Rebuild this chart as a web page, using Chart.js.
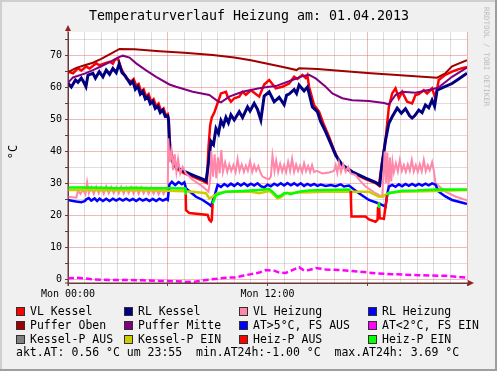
<!DOCTYPE html>
<html>
<head>
<meta charset="utf-8">
<script src="https://cdn.jsdelivr.net/npm/chart.js@4.4.0/dist/chart.umd.min.js"></script>
<style>
html, body { margin: 0; padding: 0; background: #f0f0f0; }
canvas { display: block; }
</style>
</head>
<body>
<canvas id="chart" width="497" height="371"></canvas>
<script>
// Zeit in Stunden (0 = Mon 00:00), Werte in °C
const xTickLabels = { 0: 'Mon 00:00', 12: 'Mon 12:00' };

const vlKessel = [[0,64.8],[0.3,64.3],[0.6,65.8],[0.8,65.2],[1.1,66.4],[1.3,65.8],[1.7,67.4],[1.9,66.8],[2.2,67.4],[2.5,67.9],[2.7,67.3],[2.8,68.4],[3.0,69],[3.2,65.8],[3.5,62.7],[3.8,61.7],[3.95,62.5],[4.1,60.5],[4.25,61],[4.4,58.5],[4.55,59.3],[4.7,57],[4.85,57.8],[5.0,55.5],[5.15,56.2],[5.3,54],[5.45,54.8],[5.6,52.5],[5.75,53.3],[5.9,51],[6.0,51.5],[6.05,50],[6.12,42],[6.3,37.5],[6.5,34.5],[7,33],[7.5,32],[8.1,30.7],[8.35,30],[8.45,41],[8.55,48],[8.65,50.5],[8.8,52],[9,55],[9.2,58],[9.5,58.5],[9.6,57],[9.8,55.4],[10,56.5],[10.3,57],[10.5,58.5],[10.7,57.6],[11,59],[11.2,58.2],[11.5,57],[11.8,60.8],[12.1,62.2],[12.5,59.6],[12.9,60.1],[13.3,61.1],[13.6,63.2],[13.8,62.5],[14.1,63.8],[14.3,62.8],[14.4,63.7],[14.5,60.1],[14.8,54.4],[15.1,52.3],[15.4,48.1],[15.7,44.5],[16,40.3],[16.3,36.7],[16.6,35],[17.1,33.2],[17.9,31.2],[18.5,30],[18.7,29.2],[18.85,35],[19.1,43.4],[19.3,53.8],[19.5,58],[19.7,59.6],[19.9,56.5],[20.1,58.5],[20.4,55.4],[20.7,54.9],[20.9,57.5],[21.1,57.8],[21.4,59],[21.6,58],[21.9,59.6],[22.1,56.5],[22.3,62.2],[22.7,63.8],[23.1,64.8],[23.5,65.6],[24,66.3]];

const rlKessel = [[0,61.2],[0.2,60],[0.45,62.2],[0.6,61.5],[0.8,62.8],[0.95,61.5],[1.08,60.1],[1.2,63.7],[1.5,64.3],[1.65,62.8],[1.88,64.8],[2.1,63.2],[2.3,65.3],[2.5,64],[2.7,65.8],[2.9,64.5],[3.08,67.2],[3.25,64.5],[3.45,63.5],[3.6,62.2],[3.75,61],[3.9,61.8],[4.05,59.3],[4.2,60.2],[4.35,57.8],[4.5,58.6],[4.65,56.3],[4.8,57],[4.95,54.8],[5.1,55.5],[5.25,53.3],[5.4,54],[5.55,52],[5.7,52.8],[5.85,50.8],[6.0,51],[6.05,49.5],[6.12,40.5],[6.3,36.5],[6.5,35],[7,33.6],[7.5,32.5],[8.1,31.2],[8.3,30.6],[8.45,36],[8.6,43],[8.75,42],[8.9,47],[9.05,45.5],[9.2,49.5],[9.35,48],[9.5,50.5],[9.65,48.8],[9.8,51.3],[10,49.7],[10.3,52.3],[10.5,50.5],[10.8,53.8],[10.95,52.5],[11.2,54.9],[11.4,53],[11.6,49.7],[11.8,57.2],[12.1,58.5],[12.4,55.4],[12.7,56.8],[13,54.5],[13.15,57.5],[13.3,57.8],[13.6,59.2],[13.75,58],[13.9,60.6],[14.2,58.8],[14.4,60],[14.5,58],[14.7,53.8],[15.0,52.3],[15.2,49.2],[15.5,46],[15.8,42.4],[16.1,38.7],[16.5,35.6],[17.1,33.5],[17.9,31.5],[18.5,30.2],[18.75,29.4],[18.9,36.2],[19.1,43.4],[19.3,48.7],[19.5,50.7],[19.8,53.4],[20.05,51.8],[20.3,53.2],[20.55,51],[20.7,50.3],[20.85,51],[21.1,52.8],[21.3,52],[21.5,54.4],[21.7,53.5],[21.9,55.9],[22.05,54],[22.2,59],[22.6,60],[23.1,61.1],[23.5,62.5],[24,64.3]];

const vlHeizung = [[0,25.7],[0.5,25.4],[0.6,27.6],[0.75,26.6],[0.9,28],[1.05,26.5],[1.15,30.2],[1.25,26.8],[1.4,28.6],[1.55,26.6],[1.7,28.8],[1.85,26.8],[2.0,28.7],[2.15,26.7],[2.3,28.9],[2.45,26.8],[2.6,28.7],[2.75,26.9],[2.9,28.6],[3.05,26.8],[3.2,28.8],[3.35,26.7],[3.5,28.6],[3.65,26.8],[3.8,28.7],[3.95,26.7],[4.1,28.5],[4.25,26.6],[4.4,28.6],[4.55,26.8],[4.7,28.4],[4.85,26.6],[5.0,28.5],[5.15,26.7],[5.3,28.3],[5.45,26.5],[5.6,28.2],[5.75,26.6],[5.9,28.2],[6.0,27],
  [6.03,44],[6.12,36.5],[6.22,40.5],[6.32,34],[6.42,39],[6.52,33.5],[6.62,37.5],[6.75,33],[6.9,35],[7.1,33],[7.5,31],[8.1,28.9],[8.45,27.3],
  [8.55,31],[8.62,40],[8.72,32],[8.82,39],[8.92,31.5],[9.02,38],[9.12,33],[9.22,40.3],[9.32,33.5],[9.45,36.5],[9.58,33.5],[9.7,35.8],[9.82,33.8],[9.95,35.6],[10.08,33.4],[10.2,37.5],[10.32,33.8],[10.45,35.8],[10.58,33.5],[10.7,35.4],[10.82,33.8],[10.95,36.8],[11.08,33.5],[11.2,35.6],[11.32,33.8],[11.45,35.3],[11.58,33.2],[11.7,32],[11.9,31.5],[12.1,31.2],[12.2,32],
  [12.3,38.5],[12.42,33.8],[12.52,37],[12.64,33.4],[12.76,36],[12.88,33.6],[13.0,35.6],[13.12,33.4],[13.24,36.6],[13.36,33.8],[13.48,37.6],[13.6,33.5],[13.72,35.8],[13.84,33.8],[13.96,35.4],[14.08,33.4],[14.2,36.2],[14.32,33.7],[14.44,35.3],[14.56,33.4],[14.68,35.6],[14.8,33.4],[14.95,33.8],[15.3,33],[15.7,33.3],[16.0,33.8],[16.1,35.6],[16.2,33.2],[16.3,36.4],[16.42,33.4],[16.55,35.8],[16.7,33.5],[16.85,35],[17.0,33],[17.3,32.5],[17.6,30.5],[17.9,28.9],[18.5,26.8],[18.9,25.7],
  [19.05,39.8],[19.12,30],[19.2,39.5],[19.28,28.5],[19.36,38],[19.44,30.5],[19.52,36.5],[19.6,33.4],[19.72,36.2],[19.84,33.6],[19.96,37.2],[20.08,33.8],[20.2,35.6],[20.32,33.5],[20.44,35.8],[20.56,33.8],[20.68,37.2],[20.8,33.6],[20.92,35.6],[21.04,33.5],[21.16,35.9],[21.28,33.7],[21.4,37.2],[21.52,33.7],[21.64,35.6],[21.76,34],[21.9,36.5],[22.0,34],[22.1,30],[22.7,27.3],[23.3,25.8],[24,24.6]];

const rlHeizung = [[0,24.7],[0.3,24.4],[0.5,24.2],[0.8,24],[1.0,24.3],[1.1,24.9],[1.25,25.3],[1.4,24.5],[1.6,25.2],[1.75,24.4],[1.9,25.1],[2.1,24.4],[2.3,25.1],[2.5,24.4],[2.7,25.1],[2.9,24.5],[3.1,25.1],[3.3,24.5],[3.5,25.1],[3.7,24.5],[3.9,25.0],[4.1,24.4],[4.3,25.1],[4.5,24.5],[4.7,25.0],[4.9,24.4],[5.1,25.0],[5.3,24.4],[5.5,25.1],[5.7,24.5],[5.9,25.0],[6.0,24.7],[6.1,29.5],[6.25,30.4],[6.45,29.4],[6.65,30.3],[6.85,29.6],[7.0,30.2],[7.1,28.3],[7.7,25.7],[8.1,24.7],[8.5,23.3],[8.6,22.8],[8.8,25.7],[9.0,29.4],[9.2,28.8],[9.4,29.7],[9.6,29],[9.8,29.8],[10,29.1],[10.2,29.9],[10.4,29.2],[10.6,29.9],[10.8,29.1],[11.0,29.8],[11.2,29.2],[11.4,29.9],[11.6,29],[11.8,28.6],[12.0,29.5],[12.2,29],[12.4,29.8],[12.6,29.2],[12.8,29.9],[13,29.2],[13.2,30],[13.4,29.3],[13.6,29.9],[13.8,29.2],[14,29.9],[14.2,29.1],[14.4,29.7],[14.6,29.2],[14.8,29.7],[15.0,29.1],[15.2,29.5],[15.5,29.1],[15.8,29.4],[16.1,29],[16.4,29.6],[16.6,28.9],[16.9,29.2],[17.5,26.8],[18.1,24.7],[18.7,23.6],[19.1,22.6],[19.2,26.5],[19.3,28.9],[19.5,29.4],[19.7,28.8],[19.9,29.6],[20.1,29],[20.3,29.7],[20.5,29.1],[20.7,29.7],[20.9,29.1],[21.1,29.7],[21.3,29.2],[21.5,29.8],[21.7,29.3],[21.9,29.9],[22.1,29.5],[22.3,27.3],[22.7,25.8],[23.1,24.7],[23.9,23.6],[24,23.5]];

const pufferOben = [[0,64.7],[0.5,66],[1,66.8],[1.5,67.6],[2,68.8],[2.5,70.2],[3.1,71.9],[4,71.8],[5.5,71.2],[7,70.7],[8.7,70],[10,69.2],[11,68.4],[12,67.3],[13,66.2],[13.75,65.3],[13.9,65.9],[15,65.6],[16.5,65],[18,64.4],[20,63.7],[22.2,62.9],[22.7,64.3],[23.1,66.5],[24,68.4]];

const pufferMitte = [[0,61.3],[0.3,63],[1,64.2],[1.5,65.3],[2,66.5],[2.5,67.8],[3.0,69.2],[3.3,69.8],[3.7,69.2],[4.1,67.4],[4.7,65.2],[5.3,63.2],[6.1,60.8],[6.5,60.1],[7.5,58.5],[8.5,57.5],[9,55.6],[9.2,55.2],[9.7,57],[10.5,58.5],[11.5,59.6],[12.1,60.1],[12.5,60.3],[13.5,62.2],[14.1,63.4],[14.5,63.8],[14.9,62.7],[15.5,60.1],[15.9,58],[16.5,56.5],[17.1,55.9],[18.1,55.6],[19,55],[19.3,54.6],[19.7,57.5],[20.1,58.5],[20.9,58.2],[21.9,59.3],[22.3,59.9],[23.1,63.2],[24,66.1]];

const atWarm = [];
const atKalt = [[0,0.2],[0.5,0.4],[1,0.2],[1.5,-0.1],[2.5,-0.3],[3.5,-0.3],[4.5,-0.4],[5.5,-0.6],[6.5,-0.7],[7.1,-0.9],[7.7,-0.8],[8.3,-0.3],[9,0.1],[9.7,0.5],[10.1,0.5],[10.5,1],[11.1,1.6],[11.5,2],[11.9,2.8],[12.4,2.6],[12.7,2],[13.1,1.9],[13.5,2.8],[13.9,3.7],[14.2,2.6],[14.5,2.8],[14.9,3.4],[15.1,3.3],[15.5,3.0],[16.3,2.8],[17.5,2.3],[18.5,1.8],[19.5,1.5],[21.1,1.2],[22.7,1.0],[23.9,0.5],[24,0.5]];

const kesselPAus = [];
const kesselPEin = [[0,27.8],[1,27.8],[2,27.7],[3,27.8],[4,27.7],[5,27.7],[6,27.6],[7,27.4],[7.5,27.3],[8.3,26.8],[8.5,25.2],[8.7,25.7],[9,26.8],[9.5,27.3],[11,27.3],[11.5,26.8],[12.1,27.5],[12.3,26.8],[12.6,25.2],[12.8,25.6],[13.1,26.8],[13.9,27],[15.5,27.3],[17.1,27.3],[18.1,27.3],[18.7,25.7],[19,26],[19.3,27],[20.1,27.3],[22,27.5],[24,27.8]];

const heizPAus = [[7.08,26.5],[7.1,21.5],[7.3,20.6],[8.4,20],[8.5,18.5],[8.6,18],[8.65,18.5],[8.7,23.6],[8.71,null],
  [17,27.5],[17.02,24.7],[17.05,19.5],[17.9,19.5],[18.1,18.6],[18.5,17.9],[18.62,18.5],[18.65,22.6],[18.68,null],
  [18.7,24],[18.75,19],[19.0,18.8],[19.1,22.6],[19.2,26.2]];
const heizPEin = [[0,28.6],[1,28.6],[2,28.5],[3,28.4],[4,28.5],[5,28.4],[6,28.4],[7.05,28.3],[7.08,26.5],[7.09,null],
  [8.7,23.6],[8.9,26.2],[9.2,26.8],[9.5,27.3],[10.5,27.5],[11.5,27.8],[12.1,28.1],[12.3,27.3],[12.6,25.7],[12.8,26],[13,26.8],[13.2,26.9],[13.4,26.5],[13.9,27.3],[14.5,27.7],[15.5,27.8],[16.9,28],[17,27.5],[17.01,null],
  [18.65,22.6],[18.7,24],[18.72,null],
  [19.2,26.2],[19.3,26.8],[20.1,27.6],[21,27.7],[22.1,28],[23.9,28],[24,28]];

const seriesNames = ['VL Kessel', 'RL Kessel', 'VL Heizung', 'RL Heizung', 'Puffer Oben', 'Puffer Mitte',
  'AT>5°C, FS AUS', 'AT<2°C, FS EIN', 'Kessel-P AUS', 'Kessel-P EIN', 'Heiz-P AUS', 'Heiz-P EIN'];
const seriesColors = ['#ff0000', '#000080', '#ff88aa', '#0000ff', '#a00000', '#800080',
  '#0000ff', '#ff00ff', '#808080', '#cccc00', '#ff0000', '#00ff00'];
const seriesData = [vlKessel, rlKessel, vlHeizung, rlHeizung, pufferOben, pufferMitte,
  atWarm, atKalt, kesselPAus, kesselPEin, heizPAus, heizPEin];
const seriesWidths = [2.5, 3, 2, 2.5, 2, 2, 2, 2.5, 2, 2.5, 2.5, 2.5];

const footerText = 'akt.AT: 0.56 °C um 23:55  min.AT24h:-1.00 °C  max.AT24h: 3.69 °C';
const titleText = 'Temperaturverlauf Heizung am: 01.04.2013';

const mono = '"DejaVu Sans Mono", monospace';
const majorGrid = 'rgba(222,80,80,0.4)';
const minorGrid = 'rgba(143,143,143,0.3)';
const axisColor = '#6b3a3a';

let datasets = seriesData.map((d, i) => ({
    label: seriesNames[i],
    data: d.map(p => ({ x: p[0], y: p[1] })),
    borderColor: seriesColors[i],
    backgroundColor: seriesColors[i],
    borderWidth: seriesWidths[i],
    borderDash: i === 7 ? [6, 3] : [],
    pointRadius: 0,
    tension: 0,
    spanGaps: false,
    order: seriesData.length - i   // spätere Serien oben, wie bei rrdtool
}));

// Hintergrund, Titel, Legende usw.
const rrdLook = {
    id: 'rrdLook',
    beforeDraw(chart) {
        let c = chart.ctx, a = chart.chartArea;
        c.save();
        c.fillStyle = '#f0f0f0';
        c.fillRect(0, 0, chart.width, chart.height);
        c.fillStyle = '#ffffff';
        c.fillRect(a.left, a.top, a.right - a.left, a.bottom - a.top);
        c.restore();
    },
    afterDraw(chart) {
        let c = chart.ctx, a = chart.chartArea;
        c.save();

        // Achsen-Verlängerung und Pfeile
        c.strokeStyle = axisColor;
        c.lineWidth = 1;
        c.beginPath();
        c.moveTo(a.left, a.bottom + 3);
        c.lineTo(a.left, a.top - 4);
        c.moveTo(a.left - 3, a.bottom);
        c.lineTo(a.right + 4, a.bottom);
        c.stroke();
        c.fillStyle = '#9a1f1f';
        c.beginPath();
        c.moveTo(a.left, a.top - 7);
        c.lineTo(a.left - 3, a.top - 1);
        c.lineTo(a.left + 3, a.top - 1);
        c.closePath();
        c.fill();
        c.beginPath();
        c.moveTo(a.right + 7, a.bottom);
        c.lineTo(a.right + 1, a.bottom - 3);
        c.lineTo(a.right + 1, a.bottom + 3);
        c.closePath();
        c.fill();

        // Titel
        c.fillStyle = '#000';
        c.font = '13.3px ' + mono;
        c.textAlign = 'center';
        c.textBaseline = 'middle';
        c.fillText(titleText, 249, 17);

        // Einheit
        c.save();
        c.translate(14, 152);
        c.rotate(-Math.PI / 2);
        c.font = '12px ' + mono;
        c.fillText('°C', 0, 0);
        c.restore();

        // Legende: 4 Spalten
        let colX = [16, 124, 239, 368];
        let rowY = [311.5, 325.5, 339.5];
        c.font = '11.5px ' + mono;
        c.textAlign = 'left';
        chart.data.datasets.forEach((ds, i) => {
            let x = colX[i % 4], y = rowY[Math.floor(i / 4)];
            c.fillStyle = ds.borderColor;
            c.fillRect(x, y - 4.5, 9, 9);
            c.strokeStyle = '#303030';
            c.lineWidth = 1;
            c.strokeRect(x + 0.5, y - 4, 8, 8);
            c.fillStyle = '#000';
            c.fillText(ds.label, x + 14, y + 0.5);
        });
        c.fillText(footerText, 16, 353.5);

        // Wasserzeichen rechts
        c.save();
        c.translate(486, 7);
        c.rotate(Math.PI / 2);
        c.font = '7.5px ' + mono;
        c.fillStyle = '#bcbcbc';
        c.textBaseline = 'middle';
        c.fillText('RRDTOOL / TOBI OETIKER', 0, 0);
        c.restore();

        // Rahmen
        c.fillStyle = '#cfcfcf';
        c.fillRect(0, 0, chart.width, 2);
        c.fillRect(0, 0, 2, chart.height);
        c.fillStyle = '#9e9e9e';
        c.fillRect(0, chart.height - 2, chart.width, 2);
        c.fillRect(chart.width - 2, 0, 2, chart.height);
        c.restore();
    }
};

let ctx = document.getElementById('chart').getContext('2d');
new Chart(ctx, {
    type: 'line',
    data: { datasets: datasets },
    options: {
        responsive: false,
        animation: false,
        devicePixelRatio: 1,
        layout: { padding: { top: 32, right: 30, bottom: 70, left: 0 } },
        plugins: {
            legend: { display: false },
            tooltip: { enabled: false },
            title: { display: false }
        },
        scales: {
            x: {
                type: 'linear',
                min: 0,
                max: 24,
                afterFit: s => { s.height = 18; },
                ticks: {
                    stepSize: 1,
                    autoSkip: false,
                    maxRotation: 0,
                    padding: 2,
                    color: '#000',
                    font: { family: mono, size: 10 },
                    callback: v => xTickLabels[v] || ''
                },
                grid: {
                    color: c => (c.tick && c.tick.value % 6 === 0) ? majorGrid : minorGrid,
                    tickLength: 3,
                    tickColor: c => (c.tick && c.tick.value % 6 === 0) ? axisColor : 'rgba(0,0,0,0)'
                },
                border: { color: axisColor, width: 1 }
            },
            y: {
                min: -1.25,
                max: 77.2,
                afterFit: s => { s.width = 68; },
                ticks: {
                    stepSize: 5,
                    includeBounds: false,
                    padding: 3,
                    color: '#000',
                    font: { family: mono, size: 10 },
                    callback: v => (v % 10 === 0 ? String(v) : '')
                },
                grid: {
                    color: c => {
                        let v = c.tick ? c.tick.value : 0.5;
                        if (v % 10 === 0) return majorGrid;
                        if (v % 5 === 0) return minorGrid;
                        return 'rgba(0,0,0,0)';
                    },
                    tickLength: 3,
                    tickColor: c => (c.tick && c.tick.value % 5 === 0) ? axisColor : 'rgba(0,0,0,0)'
                },
                border: { color: axisColor, width: 1 }
            }
        }
    },
    plugins: [rrdLook]
});
</script>
</body>
</html>
